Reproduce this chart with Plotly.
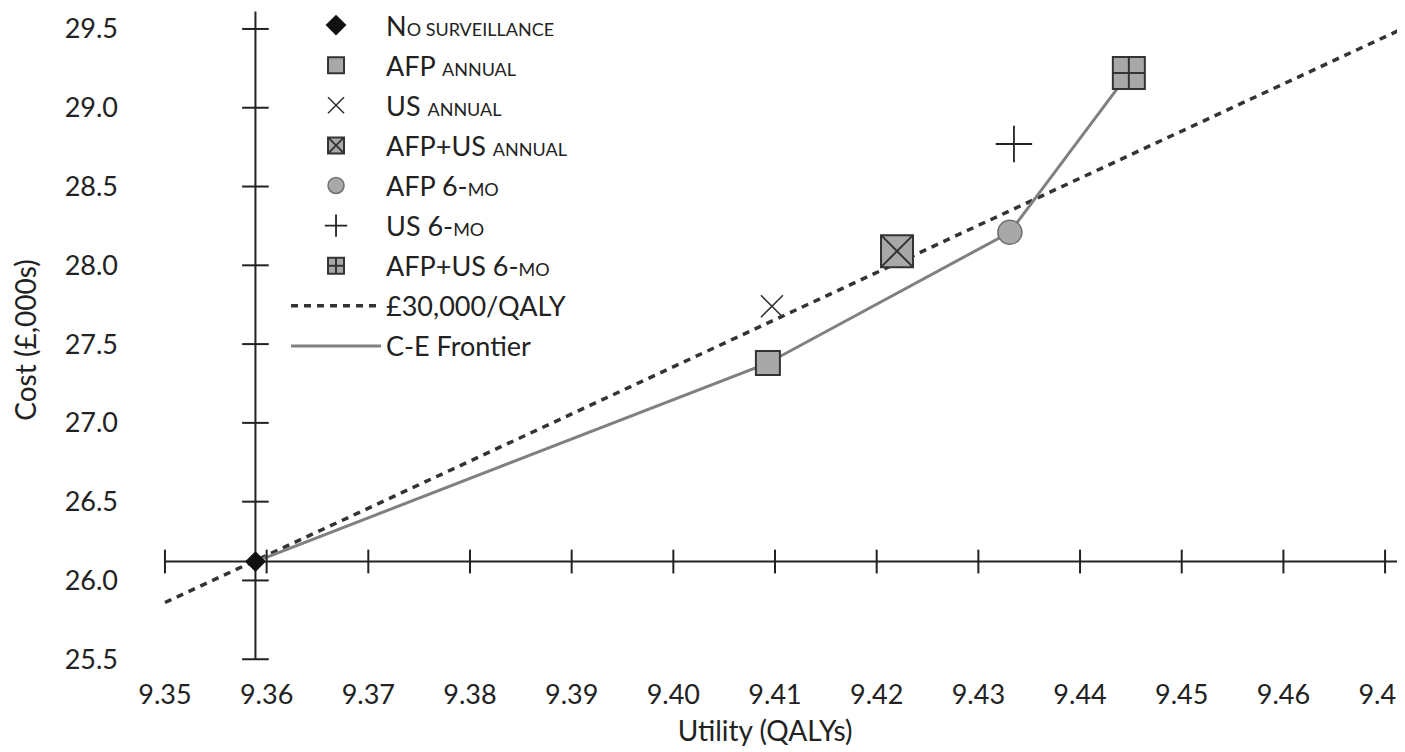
import plotly.graph_objects as go

# ---- data ----
strategies = ["No surveillance", "AFP annual", "US annual", "AFP+US annual",
              "AFP 6-mo", "US 6-mo", "AFP+US 6-mo"]
utility = [9.3589, 9.4093, 9.4097, 9.4220, 9.4331, 9.4335, 9.4448]   # QALYs
cost = [26.12, 27.38, 27.74, 28.09, 28.21, 28.77, 29.22]             # £,000s
frontier = ["No surveillance", "AFP annual", "AFP 6-mo", "AFP+US 6-mo"]
wtp_utility = [9.35, 9.472]
wtp_cost = [25.86, 29.51]
x_ticks = [9.35, 9.36, 9.37, 9.38, 9.39, 9.40, 9.41, 9.42, 9.43, 9.44, 9.45, 9.46, 9.47]
x_tick_labels = ["9.35", "9.36", "9.37", "9.38", "9.39", "9.40", "9.41", "9.42",
                 "9.43", "9.44", "9.45", "9.46", "9.47"]
y_ticks = [25.5, 26.0, 26.5, 27.0, 27.5, 28.0, 28.5, 29.0, 29.5]
y_tick_labels = ["25.5", "26.0", "26.5", "27.0", "27.5", "28.0", "28.5", "29.0", "29.5"]

# legend labels (small caps emulated)
SC = "<span style='font-size:18px'>{}</span>"
legend_labels = [
    "N" + SC.format("O SURVEILLANCE"),
    "AFP " + SC.format("ANNUAL"),
    "US " + SC.format("ANNUAL"),
    "AFP+US " + SC.format("ANNUAL"),
    "AFP 6-" + SC.format("MO"),
    "US 6-" + SC.format("MO"),
    "AFP+US 6-" + SC.format("MO"),
]

# ---- styles ----
FONT = "Lato"
INK = "#222222"
GREY = "#a8a8a8"
styles = [
    dict(symbol="diamond", size=16, color="#111111", line=dict(width=0)),
    dict(symbol="square", size=24, color=GREY, line=dict(color="#333333", width=2)),
    dict(symbol="x-thin", size=22, color="#333333", line=dict(color="#333333", width=1.6)),
    dict(symbol="square-x", size=32, color=GREY, line=dict(color="#333333", width=2)),
    dict(symbol="circle", size=24, color=GREY, line=dict(color="#6f6f6f", width=1.5)),
    dict(symbol="cross-thin", size=26, color=INK, line=dict(color=INK, width=1.8)),
    dict(symbol="square-cross", size=32, color=GREY, line=dict(color="#333333", width=2)),
]

X_RANGE = [9.34607, 9.47196]
Y_RANGE = [25.419, 29.633]
Y_AXIS_TOP = 29.61
cross_x = utility[0]
cross_y = cost[0]

fig = go.Figure()

# threshold line
fig.add_trace(go.Scatter(
    x=wtp_utility, y=wtp_cost, mode="lines", name="£30,000/QALY",
    line=dict(color="#333333", width=3.5, dash="7px,6px"),
    legendrank=8, legendgroup="g8", hoverinfo="skip"))

# cost-effectiveness frontier
fx = [utility[strategies.index(s)] for s in frontier]
fy = [cost[strategies.index(s)] for s in frontier]
fig.add_trace(go.Scatter(
    x=fx, y=fy, mode="lines", name="C-E Frontier",
    line=dict(color="#808080", width=3),
    legendrank=9, legendgroup="g9", hoverinfo="skip"))

# axis lines crossing at the baseline strategy
fig.add_shape(type="line", x0=x_ticks[0], x1=X_RANGE[1], y0=cross_y, y1=cross_y,
              line=dict(color=INK, width=2), layer="below")
fig.add_shape(type="line", x0=cross_x, x1=cross_x, y0=y_ticks[0], y1=Y_AXIS_TOP,
              line=dict(color=INK, width=2), layer="below")
# tick marks
fig.add_trace(go.Scatter(
    x=x_ticks, y=[cross_y] * len(x_ticks), mode="markers", showlegend=False,
    hoverinfo="skip", cliponaxis=False,
    marker=dict(symbol="line-ns", size=17, line=dict(color=INK, width=2))))
fig.add_trace(go.Scatter(
    x=[cross_x] * len(y_ticks), y=y_ticks, mode="markers", showlegend=False,
    hoverinfo="skip", cliponaxis=False,
    marker=dict(symbol="line-ew", size=19, line=dict(color=INK, width=2))))

# strategies
for i, (name, u, c) in enumerate(zip(strategies, utility, cost)):
    fig.add_trace(go.Scatter(
        x=[u], y=[c], mode="markers", name=legend_labels[i],
        marker=styles[i], legendrank=i + 1, legendgroup="g%d" % i,
        hovertemplate=name + "<br>Utility %{x:.4f}<br>Cost %{y:.2f}<extra></extra>"))

# the page body adds an 8px offset; the figure is sized to fill the window
fig.update_layout(
    width=1397, height=744,
    margin=dict(l=117, r=0, t=0, b=80, autoexpand=False),
    paper_bgcolor="white", plot_bgcolor="white",
    font=dict(family=FONT, size=27, color=INK),
    showlegend=True,
    legend=dict(x=0.1258, y=1.0105, xanchor="left", yanchor="top",
                bgcolor="rgba(0,0,0,0)", font=dict(size=27, family=FONT, color=INK),
                traceorder="grouped", tracegroupgap=2, itemwidth=90),
    xaxis=dict(range=X_RANGE, tickvals=x_ticks, ticktext=x_tick_labels,
               showgrid=False, zeroline=False, showline=False, ticks="",
               automargin=False, ticklabeloverflow="allow",
               ticklabelstandoff=4,
               title=dict(text="Utility (QALYs)", font=dict(size=28, family=FONT),
                          standoff=12)),
    yaxis=dict(range=Y_RANGE, tickvals=y_ticks, ticktext=y_tick_labels,
               showgrid=False, zeroline=False, showline=False, ticks="",
               automargin=False, ticklabelstandoff=6,
               title=dict(text="Cost (£,000s)", font=dict(size=28, family=FONT),
                          standoff=20)),
)

fig.write_html("out.html")
